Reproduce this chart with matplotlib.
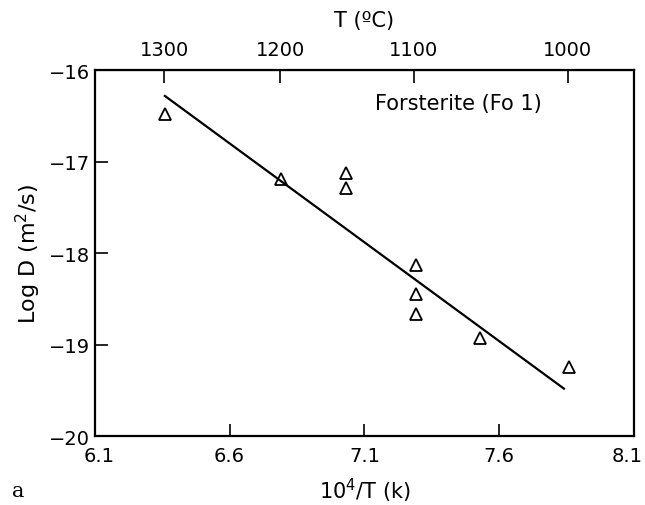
import numpy as np
from matplotlib import pyplot as plt
from matplotlib.transforms import ScaledTranslation

# 10^4/T (K) and log D (m^2/s)
inv_t = [6.36, 6.79, 7.03, 7.03, 7.29, 7.29, 7.29, 7.53, 7.86]
log_d = [-16.48, -17.19, -17.12, -17.29, -18.13, -18.45, -18.66, -18.93, -19.24]

# fitted line end points
fit_x = [6.36, 7.84]
fit_y = [-16.28, -19.48]

x_ticks = [6.1, 6.6, 7.1, 7.6, 8.1]
y_ticks = [-16, -17, -18, -19, -20]
temps_c = [1300, 1200, 1100, 1000]


def c_to_inv(tc):
    return 1e4 / (np.asarray(tc, dtype=float) + 273.15)


def inv_to_c(x):
    return 1e4 / np.asarray(x, dtype=float) - 273.15


def main() -> None:
    fig = plt.figure(figsize=(6.45, 5.06), dpi=100)
    ax = fig.add_axes([0.147, 0.136, 0.836, 0.723])

    ax.plot(fit_x, fit_y, color="black", lw=1.6)
    ax.plot(inv_t, log_d, ls="none", marker="^", ms=8, mfc="none",
            mec="black", mew=1.3)

    ax.set_xlim(6.1, 8.1)
    ax.set_ylim(-20, -16)
    ax.set_xticks(x_ticks)
    ax.set_xticklabels([f"{v:.1f}" for v in x_ticks])
    ax.set_yticks(y_ticks)
    ax.set_yticklabels([f"\u2212{abs(v)}" for v in y_ticks])
    ax.tick_params(direction="in", length=9, width=1.2, labelsize=14,
                   right=False, top=False)
    ax.tick_params(axis="x", pad=7)
    for s in ax.spines.values():
        s.set_linewidth(1.6)

    # nudge the end labels like the original print
    fig.canvas.draw()
    xlabels = ax.get_xticklabels()
    xlabels[-1].set_transform(xlabels[-1].get_transform()
                              + ScaledTranslation(-5 / 72, 0, fig.dpi_scale_trans))
    xlabels[0].set_transform(xlabels[0].get_transform()
                             + ScaledTranslation(3 / 72, 0, fig.dpi_scale_trans))

    top = ax.secondary_xaxis("top", functions=(inv_to_c, c_to_inv))
    top.set_xticks(temps_c)
    top.tick_params(direction="in", length=9, width=1.2, labelsize=14, pad=8)
    top.set_xlabel("T (\u00baC)", fontsize=15, labelpad=10)

    ax.set_xlabel("10$^4$/T (k)", fontsize=15, labelpad=8)
    ax.set_ylabel("Log D (m$^2$/s)", fontsize=16, labelpad=4)

    ax.text(7.45, -16.36, "Forsterite (Fo 1)", fontsize=15, ha="center",
            va="center")
    fig.text(0.018, 0.028, "a", fontsize=15, family="DejaVu Serif",
             ha="left", va="center")

    fig.savefig("out.png", dpi=100)


if __name__ == "__main__":
    main()
